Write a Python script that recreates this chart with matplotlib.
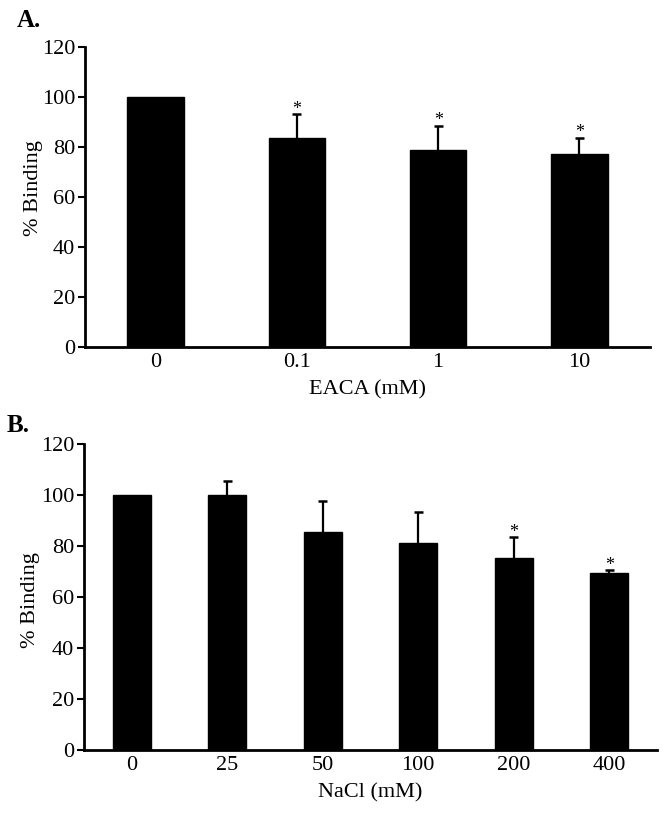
import matplotlib
matplotlib.use("Agg")
import matplotlib.pyplot as plt
import numpy as np

plt.rcParams["font.family"] = ["Liberation Serif", "DejaVu Serif"]

# Panel A data
eaca_labels = ["0", "0.1", "1", "10"]
eaca_values = [100, 83.5, 78.8, 77.2]
eaca_err = [0, 9.6, 9.6, 6.4]
eaca_star = [False, True, True, True]

# Panel B data
nacl_labels = ["0", "25", "50", "100", "200", "400"]
nacl_values = [100, 100, 85.5, 81.2, 75.4, 69.3]
nacl_err = [0, 5.5, 12.3, 12.2, 8.1, 1.3]
nacl_star = [False, False, False, False, True, True]

fig = plt.figure(figsize=(6.64, 8.18), dpi=100)
axA = fig.add_axes([0.128, 0.5758, 0.851, 0.3667])
axB = fig.add_axes([0.1265, 0.0831, 0.863, 0.374])


def draw(ax, labels, values, err, star, xlabel, ylab_pos, cap):
    x = np.arange(len(labels))
    values = np.array(values)
    err = np.array(err)
    ax.bar(x, values, width=0.4, color="black", edgecolor="black", zorder=2)
    # upper error bars only
    has = err > 0
    tops = values + err
    ax.vlines(x[has], values[has], tops[has], color="black", lw=1.6, zorder=1)
    ax.hlines(tops[has], x[has] - cap, x[has] + cap, color="black", lw=1.8, zorder=1)
    for xi, t, s in zip(x, tops, star):
        if s:
            ax.annotate("*", (xi, t), xytext=(0, -2.5), textcoords="offset points",
                        ha="center", va="bottom", fontsize=13)
    ax.set_xlim(-0.5, len(labels) - 0.5)
    ax.set_ylim(0, 120)
    ax.set_yticks(range(0, 121, 20))
    ax.set_xticks(x)
    ax.set_xticklabels(labels)
    ax.spines["top"].set_visible(False)
    ax.spines["right"].set_visible(False)
    ax.spines["left"].set_linewidth(2)
    ax.spines["bottom"].set_linewidth(2)
    ax.tick_params(axis="y", length=5, width=1.5, labelsize=16, pad=2)
    ax.tick_params(axis="x", length=0, labelsize=16, pad=4)
    ax.set_ylabel("% Binding", fontsize=16)
    ax.yaxis.set_label_coords(*ylab_pos)
    ax.set_xlabel(xlabel, fontsize=16, labelpad=6)


draw(axA, eaca_labels, eaca_values, eaca_err, eaca_star, "EACA (mM)", (-0.075, 0.53), 0.032)
draw(axB, nacl_labels, nacl_values, nacl_err, nacl_star, "NaCl (mM)", (-0.077, 0.49), 0.045)

fig.text(0.025, 0.975, "A.", fontsize=18, fontweight="bold", va="center")
fig.text(0.01, 0.48, "B.", fontsize=18, fontweight="bold", va="center")

fig.savefig("out.png", dpi=100)
